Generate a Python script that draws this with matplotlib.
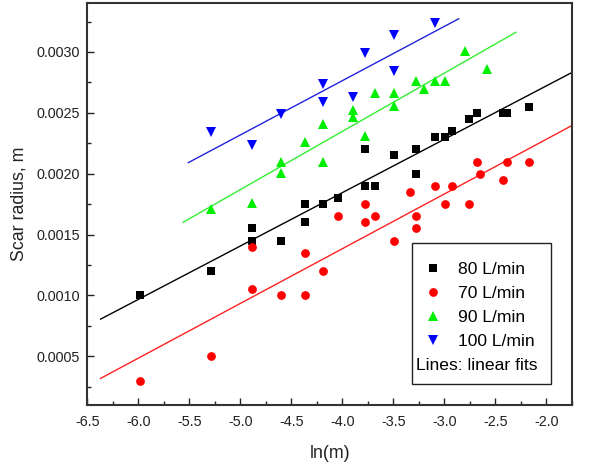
import numpy as np
import matplotlib
matplotlib.use("Agg")
import matplotlib.pyplot as plt
from matplotlib.ticker import MultipleLocator, FormatStrFormatter
from matplotlib.patches import Rectangle

plt.rcParams['font.family'] = ['Liberation Sans', 'DejaVu Sans']
plt.rcParams['axes.unicode_minus'] = False

# ---- data ----
x80 = [-5.98, -5.29, -4.89, -4.89, -4.60, -4.37, -4.37, -4.19, -4.04, -3.78, -3.78,
       -3.68, -3.49, -3.28, -3.28, -3.09, -2.99, -2.93, -2.76, -2.68, -2.43, -2.39, -2.17]
y80 = [0.00100, 0.00120, 0.00155, 0.00145, 0.00145, 0.00175, 0.00160, 0.00175, 0.00180,
       0.00220, 0.00190, 0.00190, 0.00215, 0.00220, 0.00200, 0.00230, 0.00230, 0.00235,
       0.00245, 0.00250, 0.00250, 0.00250, 0.00255]

x70 = [-5.98, -5.29, -4.89, -4.89, -4.60, -4.37, -4.37, -4.19, -4.04, -3.78, -3.78, -3.68,
       -3.49, -3.34, -3.28, -3.28, -3.09, -2.99, -2.93, -2.76, -2.68, -2.65, -2.43, -2.39, -2.17]
y70 = [0.00030, 0.00050, 0.00105, 0.00140, 0.00100, 0.00100, 0.00135, 0.00120, 0.00165,
       0.00175, 0.00160, 0.00165, 0.00145, 0.00185, 0.00165, 0.00155, 0.00190, 0.00175,
       0.00190, 0.00175, 0.00210, 0.00200, 0.00195, 0.00210, 0.00210]

x90 = [-5.29, -4.89, -4.60, -4.60, -4.37, -4.19, -4.19, -3.90, -3.90, -3.78, -3.68,
       -3.49, -3.49, -3.28, -3.20, -3.09, -2.99, -2.80, -2.58]
y90 = [0.00171, 0.00176, 0.00210, 0.00201, 0.00226, 0.00241, 0.00210, 0.00252, 0.00247,
       0.00231, 0.00266, 0.00266, 0.00256, 0.00276, 0.00270, 0.00276, 0.00276, 0.00301, 0.00286]

x100 = [-5.29, -4.89, -4.60, -4.19, -4.19, -3.90, -3.78, -3.49, -3.49, -3.09]
y100 = [0.00234, 0.00224, 0.00249, 0.00274, 0.00259, 0.00263, 0.00299, 0.00314, 0.00284, 0.00324]

labels = ['80 L/min', '70 L/min', '90 L/min', '100 L/min']
legend_note = 'Lines: linear fits'
# x-extent of each drawn fit line
fit_x0 = [-6.37, -6.37, -5.56, -5.51]
fit_x1 = [-1.75, -1.75, -2.30, -2.86]

xticks = [-6.5, -6.0, -5.5, -5.0, -4.5, -4.0, -3.5, -3.0, -2.5, -2.0]
yticks = [0.0005, 0.0010, 0.0015, 0.0020, 0.0025, 0.0030]

# ---- styling ----
series = [(x80, y80), (x70, y70), (x90, y90), (x100, y100)]
markers = ['s', 'o', '^', 'v']
mcolors = ['#000000', '#ff0000', '#00ee00', '#0000ff']
lcolors = ['#000000', '#ff2020', '#33ee33', '#2222dd']
msizes = [5.3, 6.3, 6.8, 6.8]

fig = plt.figure(figsize=(5.91, 4.69), dpi=100)
ax = fig.add_axes([87.3 / 591, 1 - 405 / 469, (572 - 87.3) / 591, (405 - 3.3) / 469])

handles = []
for (xs, ys), m, mc, lc, ms, lab, a, b in zip(series, markers, mcolors, lcolors, msizes,
                                             labels, fit_x0, fit_x1):
    h, = ax.plot(xs, ys, linestyle='none', marker=m, color=mc, markersize=ms,
                 markeredgewidth=0, label=lab, zorder=3)
    handles.append(h)
    k, c = np.polyfit(xs, ys, 1)
    xl = np.array([a, b])
    ax.plot(xl, k * xl + c, color=lc, linewidth=1.0, zorder=2)

ax.set_xlim(-6.5, -1.75)
ax.set_ylim(0.0001, 0.0034)
ax.set_xticks(xticks)
ax.set_yticks(yticks)
ax.xaxis.set_minor_locator(MultipleLocator(0.25))
ax.yaxis.set_minor_locator(MultipleLocator(0.00025))
ax.xaxis.set_major_formatter(FormatStrFormatter('%.1f'))
ax.yaxis.set_major_formatter(FormatStrFormatter('%.4f'))
ax.tick_params(which='both', direction='in', top=False, right=False,
               labelsize=10.4, colors='#222222', width=1.0)
ax.tick_params(which='major', length=5)
ax.tick_params(which='minor', length=3)
ax.tick_params(axis='x', which='major', pad=7.5)
ax.tick_params(axis='y', which='major', pad=5)
for s in ax.spines.values():
    s.set_linewidth(1.5)
    s.set_color('#333333')

ax.set_xlabel('ln(m)', fontsize=12.8, labelpad=11, color='#222222')
ax.set_ylabel('Scar radius, m', fontsize=12.8, labelpad=7, color='#222222')

# legend: entries plus a note line, in a plain rectangular frame
leg = ax.legend(handles=handles, loc='upper left', bbox_to_anchor=(0.678, 0.356),
                borderaxespad=0, borderpad=0, fontsize=12.6, title=legend_note,
                title_fontsize=12.6, alignment='left', frameon=False,
                handlelength=2.0, handletextpad=0.4, labelspacing=0.5)
leg._legend_box._children.reverse()
ax.add_patch(Rectangle((0.669, 0.0523), 0.2868, 0.350, transform=ax.transAxes,
                       fill=True, facecolor='white', edgecolor='#222222',
                       linewidth=1.0, zorder=4))
leg.set_zorder(5)

fig.savefig('out.png', dpi=100)
